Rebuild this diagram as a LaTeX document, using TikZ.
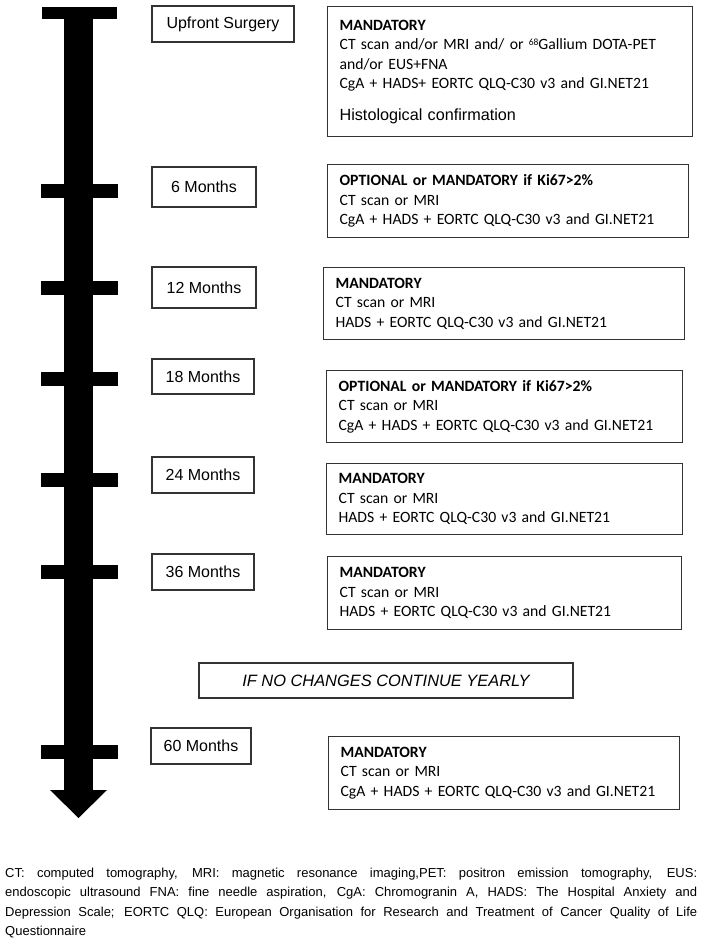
\documentclass[tikz,border=0pt]{standalone}
\usepackage{fontspec}
\setmainfont{Liberation Sans}
\newfontfamily\calibrifont{Carlito}
\newcommand{\smallsup}[1]{\raisebox{0.55ex}{\fontsize{9.5}{9.5}\selectfont #1}}
\begin{document}
\begin{tikzpicture}[x=1pt,y=-1pt,
  frame/.style={draw=black!80, line width=1.2pt, rectangle, inner sep=0pt},
  mbox/.style={frame, font=\fontsize{16}{19}\selectfont, anchor=center},
  info/.style={frame, font=\calibrifont\fontsize{15.7}{19.5}\selectfont, align=left, inner xsep=12pt, inner ysep=0pt, anchor=north west},
  tick/.style={fill=black}
]
\useasboundingbox (0,0) rectangle (708,948);
% timeline
\fill[tick] (42,7) rectangle (117,19);
\fill[tick] (64,19) rectangle (93,790);
\foreach \yy in {190.5,288,379,480,572,752}{
  \fill[tick] (41,\yy-7) rectangle (118,\yy+7);
}
\fill[tick] (50,790) -- (107,790) -- (78.5,818) -- cycle;
% time boxes
\node[mbox, minimum width=142pt, minimum height=36pt] (surg) at (223,24) {Upfront Surgery};
\node[mbox, minimum width=104pt, minimum height=40pt] (m6) at (204,187) {6 Months};
\node[mbox, minimum width=104pt, minimum height=41pt] (m12) at (204,287.5) {12 Months};
\node[mbox, minimum width=102pt, minimum height=35pt] (m18) at (203,376.5) {18 Months};
\node[mbox, minimum width=102pt, minimum height=36pt] (m24) at (203,475) {24 Months};
\node[mbox, minimum width=102pt, minimum height=36pt] (m36) at (203,572) {36 Months};
\node[mbox, minimum width=100pt, minimum height=36pt] (m60) at (201,746) {60 Months};
\node[mbox, minimum width=374pt, minimum height=35pt, font=\itshape\fontsize{16.4}{19}\selectfont] (yearly) at (386,680.5) {IF NO CHANGES CONTINUE YEARLY};
% info boxes
\node[info, minimum height=130pt, text width=341pt] (i0) at (327,6)
 {\textbf{MANDATORY}\\
  CT scan and/or MRI and/ or \smallsup{68}Gallium DOTA-PET\\
  and/or EUS+FNA\\
  CgA + HADS+ EORTC QLQ-C30 v3 and GI.NET21\\[12pt]
  {\normalfont\fontsize{16.2}{19.5}\selectfont Histological confirmation}};
\node[info, minimum height=73pt, text width=337pt] (i6) at (327,164)
 {\textbf{OPTIONAL or MANDATORY if Ki67>2\%}\\
  CT scan or MRI\\
  CgA + HADS + EORTC QLQ-C30 v3 and GI.NET21};
\node[info, minimum height=72pt, text width=337pt] (i12) at (323,267)
 {\textbf{MANDATORY}\\
  CT scan or MRI\\
  HADS + EORTC QLQ-C30 v3 and GI.NET21};
\node[info, minimum height=72pt, text width=332pt] (i18) at (326,370)
 {\textbf{OPTIONAL or MANDATORY if Ki67>2\%}\\
  CT scan or MRI\\
  CgA + HADS + EORTC QLQ-C30 v3 and GI.NET21};
\node[info, minimum height=71pt, text width=332pt] (i24) at (326,463)
 {\textbf{MANDATORY}\\
  CT scan or MRI\\
  HADS + EORTC QLQ-C30 v3 and GI.NET21};
\node[info, minimum height=73pt, text width=330pt] (i36) at (327,556)
 {\textbf{MANDATORY}\\
  CT scan or MRI\\
  HADS + EORTC QLQ-C30 v3 and GI.NET21};
\node[info, minimum height=73pt, text width=327pt] (i60) at (328,736)
 {\textbf{MANDATORY}\\
  CT scan or MRI\\
  CgA + HADS + EORTC QLQ-C30 v3 and GI.NET21};
% footnote
\node[anchor=north west, inner sep=0pt, text width=692pt, align=justify, font=\fontsize{13}{19.3}\selectfont] (note) at (5,868)
 {CT: computed tomography, MRI: magnetic resonance imaging,PET: positron emission tomography, EUS:\linebreak
  endoscopic ultrasound FNA: fine needle aspiration, CgA: Chromogranin A, HADS: The Hospital Anxiety and\linebreak
  Depression Scale; EORTC QLQ: European Organisation for Research and Treatment of Cancer Quality of Life\linebreak
  Questionnaire};
\end{tikzpicture}
\end{document}
